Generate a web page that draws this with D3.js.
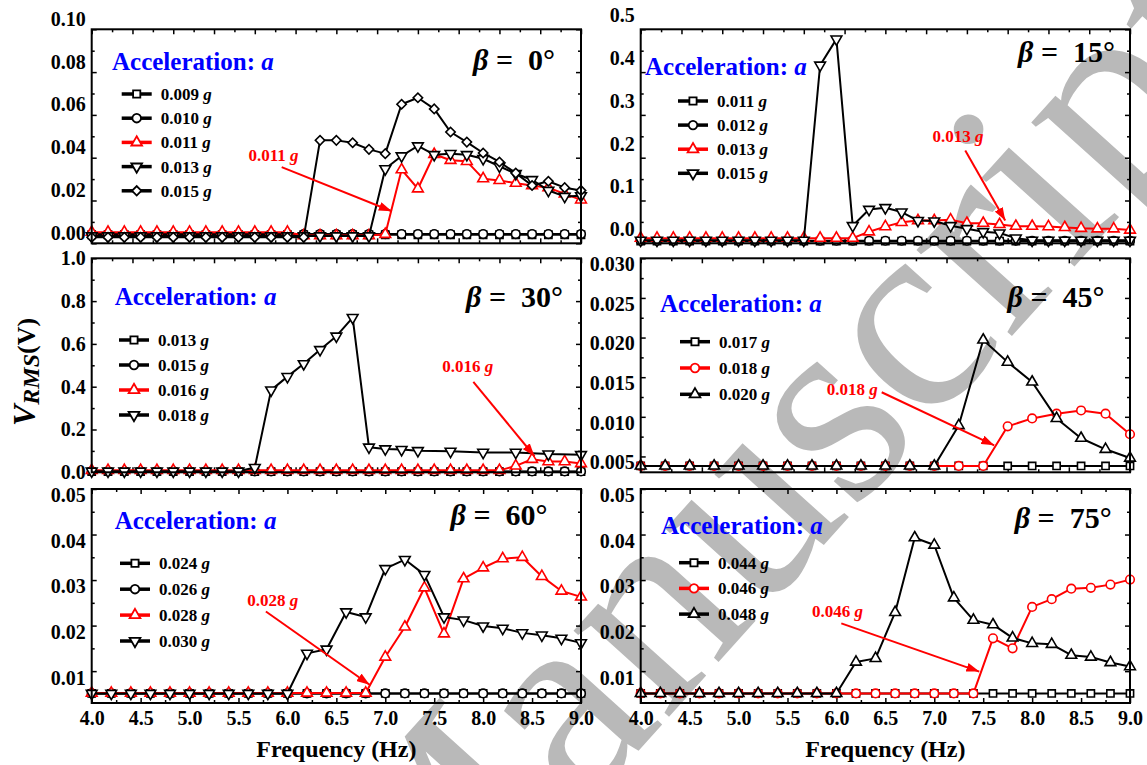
<!DOCTYPE html>
<html>
<head>
<meta charset="utf-8">
<script src="https://cdn.jsdelivr.net/npm/d3@7"></script>
<style>
  body { margin: 0; background: #fff; }
  svg text { font-family: "Liberation Serif", "Times New Roman", Times, serif; font-weight: bold; }
</style>
</head>
<body>
<svg class="vrmsChart" width="1147" height="765"></svg>
<script>
// Frequency grids (Hz)
const freqA = [3.0, 3.2, 3.4, 3.6, 3.8, 4.0, 4.2, 4.4, 4.6, 4.8, 5.0, 5.2, 5.4, 5.6, 5.8, 6.0,
               6.2, 6.4, 6.6, 6.8, 7.0, 7.2, 7.4, 7.6, 7.8, 8.0, 8.2, 8.4, 8.6, 8.8, 9.0];
const freqA2 = [3.0, 3.2, 3.4, 3.6, 3.8, 4.0, 4.2, 4.4, 4.6, 4.8, 5.0, 5.2, 5.4, 5.6, 5.8, 6.0,
                6.2, 6.4, 6.6, 6.8, 7.0, 7.4, 7.8, 8.2, 8.6, 9.0];
const freqB = [5.0, 5.2, 5.4, 5.6, 5.8, 6.0, 6.2, 6.4, 6.6, 6.8, 7.0, 7.2, 7.4, 7.6, 7.8, 8.0,
               8.2, 8.4, 8.6, 8.8, 9.0];
const freqC = [4.0, 4.2, 4.4, 4.6, 4.8, 5.0, 5.2, 5.4, 5.6, 5.8, 6.0, 6.2, 6.4, 6.6, 6.8, 7.0,
               7.2, 7.4, 7.6, 7.8, 8.0, 8.2, 8.4, 8.6, 8.8, 9.0];

// Tick labels
const xTicksA = [3.0, 3.5, 4.0, 4.5, 5.0, 5.5, 6.0, 6.5, 7.0, 7.5, 8.0, 8.5, 9.0];
const xTicksB = [5.0, 5.5, 6.0, 6.5, 7.0, 7.5, 8.0, 8.5, 9.0];
const xTicksC = [4.0, 4.5, 5.0, 5.5, 6.0, 6.5, 7.0, 7.5, 8.0, 8.5, 9.0];
const yTicks0 = [0.00, 0.02, 0.04, 0.06, 0.08, 0.10];
const yTicks15 = [0.0, 0.1, 0.2, 0.3, 0.4, 0.5];
const yTicks30 = [0.0, 0.2, 0.4, 0.6, 0.8, 1.0];
const yTicks45 = [0.005, 0.010, 0.015, 0.020, 0.025, 0.030];
const yTicks60 = [0.01, 0.02, 0.03, 0.04, 0.05];

// beta = 0 deg  (V_RMS in V)
const b0_a009 = [0.0040, 0.0040, 0.0040, 0.0040, 0.0040, 0.0040, 0.0040, 0.0040, 0.0040, 0.0040, 0.0040,
                 0.0040, 0.0040, 0.0040, 0.0040, 0.0040, 0.0040, 0.0040, 0.0040, 0.0040, 0.0040, 0.0040,
                 0.0040, 0.0040, 0.0040, 0.0040, 0.0040, 0.0040, 0.0040, 0.0040, 0.0040];
const b0_a010 = [0.0043, 0.0043, 0.0043, 0.0043, 0.0043, 0.0043, 0.0043, 0.0043, 0.0043, 0.0043, 0.0043,
                 0.0043, 0.0043, 0.0043, 0.0043, 0.0043, 0.0043, 0.0043, 0.0043, 0.0043, 0.0043, 0.0043,
                 0.0043, 0.0043, 0.0043, 0.0043, 0.0043, 0.0043, 0.0043, 0.0043, 0.0043];
const b0_a011 = [0.0052, 0.0052, 0.0052, 0.0052, 0.0052, 0.0052, 0.0052, 0.0052, 0.0052, 0.0052, 0.0052,
                 0.0052, 0.0052, 0.0036, 0.0036, 0.0036, 0.0036, 0.0036, 0.0042, 0.0344, 0.0255, 0.0416,
                 0.0388, 0.0383, 0.0302, 0.0294, 0.0281, 0.0270, 0.0260, 0.0231, 0.0203];
const b0_a013 = [0.0034, 0.0034, 0.0034, 0.0034, 0.0034, 0.0034, 0.0034, 0.0034, 0.0034, 0.0034, 0.0034,
                 0.0034, 0.0034, 0.0034, 0.0034, 0.0034, 0.0034, 0.0034, 0.0348, 0.0408, 0.0455, 0.0414,
                 0.0419, 0.0414, 0.0395, 0.0360, 0.0325, 0.0297, 0.0247, 0.0219, 0.0222];
const b0_a015 = [0.0028, 0.0028, 0.0028, 0.0028, 0.0028, 0.0028, 0.0028, 0.0028, 0.0028, 0.0028, 0.0028,
                 0.0028, 0.0028, 0.0028, 0.0481, 0.0481, 0.0470, 0.0439, 0.0419, 0.0650, 0.0680, 0.0628,
                 0.0520, 0.0473, 0.0422, 0.0380, 0.0328, 0.0270, 0.0290, 0.0260, 0.0247];

// beta = 15 deg
const b15_a011 = [0.005, 0.005, 0.005, 0.005, 0.005, 0.005, 0.005, 0.005, 0.005, 0.005, 0.005,
                  0.005, 0.005, 0.005, 0.005, 0.005, 0.005, 0.005, 0.005, 0.005, 0.005, 0.005,
                  0.005, 0.005, 0.005, 0.005, 0.005, 0.005, 0.005, 0.005, 0.005];
const b15_a012 = [0.006, 0.006, 0.006, 0.006, 0.006, 0.006, 0.006, 0.006, 0.006, 0.006, 0.006,
                  0.006, 0.006, 0.006, 0.006, 0.006, 0.006, 0.006, 0.006, 0.006, 0.006, 0.006,
                  0.006, 0.006, 0.006, 0.006, 0.006, 0.006, 0.006, 0.006, 0.006];
const b15_a013 = [0.012, 0.012, 0.012, 0.012, 0.012, 0.012, 0.012, 0.012, 0.012, 0.012, 0.012,
                  0.012, 0.012, 0.012, 0.027, 0.039, 0.049, 0.053, 0.053, 0.055, 0.047, 0.047,
                  0.044, 0.040, 0.040, 0.039, 0.037, 0.035, 0.034, 0.034, 0.031];
const b15_a015 = [0.007, 0.007, 0.007, 0.007, 0.007, 0.007, 0.007, 0.007, 0.007, 0.007, 0.007,
                  0.416, 0.477, 0.041, 0.079, 0.083, 0.073, 0.053, 0.052, 0.041, 0.034, 0.027,
                  0.024, 0.012, 0.007, 0.007, 0.007, 0.007, 0.007, 0.007, 0.007];

// beta = 30 deg
const b30_a013 = [0.003, 0.003, 0.003, 0.003, 0.003, 0.003, 0.003, 0.003, 0.003, 0.003, 0.003,
                  0.003, 0.003, 0.003, 0.003, 0.003, 0.003, 0.003, 0.003, 0.003, 0.003, 0.003,
                  0.003, 0.003, 0.003, 0.003, 0.003, 0.003, 0.003, 0.003, 0.003];
const b30_a015 = [0.004, 0.004, 0.004, 0.004, 0.004, 0.004, 0.004, 0.004, 0.004, 0.004, 0.004,
                  0.004, 0.004, 0.004, 0.004, 0.004, 0.004, 0.004, 0.004, 0.004, 0.004, 0.004,
                  0.004, 0.004, 0.004, 0.004, 0.004, 0.004, 0.004, 0.004, 0.004];
const b30_a016 = [0.009, 0.009, 0.009, 0.009, 0.009, 0.009, 0.009, 0.009, 0.009, 0.009, 0.009,
                  0.009, 0.009, 0.009, 0.009, 0.009, 0.009, 0.009, 0.009, 0.009, 0.009, 0.009,
                  0.009, 0.009, 0.009, 0.009, 0.030, 0.061, 0.050, 0.050, 0.041];
const b30_a018 = [0.005, 0.005, 0.005, 0.005, 0.005, 0.005, 0.005, 0.005, 0.005, 0.005, 0.022,
                  0.384, 0.447, 0.507, 0.573, 0.636, 0.723, 0.117, 0.109, 0.106, 0.101, 0.098,
                  0.093, 0.093, 0.085, 0.082];

// beta = 45 deg
const b45_a017 = [0.0038, 0.0038, 0.0038, 0.0038, 0.0038, 0.0038, 0.0038, 0.0038, 0.0038, 0.0038, 0.0038,
                  0.0038, 0.0038, 0.0038, 0.0038, 0.0038, 0.0038, 0.0038, 0.0038, 0.0038, 0.0038];
const b45_a018 = [0.0038, 0.0038, 0.0038, 0.0038, 0.0038, 0.0038, 0.0038, 0.0038, 0.0038, 0.0038, 0.0038,
                  0.0038, 0.0038, 0.0038, 0.0038, 0.0088, 0.0098, 0.0104, 0.0108, 0.0104, 0.0078];
const b45_a020 = [0.0038, 0.0038, 0.0038, 0.0038, 0.0038, 0.0038, 0.0038, 0.0038, 0.0038, 0.0038, 0.0038,
                  0.0038, 0.0038, 0.0089, 0.0197, 0.0169, 0.0144, 0.0098, 0.0073, 0.0059, 0.0048];

// beta = 60 deg
const b60_a024 = [0.0051, 0.0051, 0.0051, 0.0051, 0.0051, 0.0051, 0.0051, 0.0051, 0.0051, 0.0051, 0.0051,
                  0.0051, 0.0051, 0.0051, 0.0051, 0.0051, 0.0051, 0.0051, 0.0051, 0.0051, 0.0051, 0.0051,
                  0.0051, 0.0051, 0.0051, 0.0051];
const b60_a026 = [0.0051, 0.0051, 0.0051, 0.0051, 0.0051, 0.0051, 0.0051, 0.0051, 0.0051, 0.0051, 0.0051,
                  0.0051, 0.0051, 0.0051, 0.0051, 0.0051, 0.0051, 0.0051, 0.0051, 0.0051, 0.0051, 0.0051,
                  0.0051, 0.0051, 0.0051, 0.0051];
const b60_a028 = [0.0052, 0.0052, 0.0052, 0.0052, 0.0052, 0.0052, 0.0052, 0.0052, 0.0052, 0.0052, 0.0052,
                  0.0052, 0.0052, 0.0052, 0.0052, 0.0131, 0.0197, 0.0283, 0.0182, 0.0303, 0.0327, 0.0347,
                  0.0350, 0.0308, 0.0276, 0.0263];
const b60_a030 = [0.0051, 0.0051, 0.0051, 0.0051, 0.0051, 0.0051, 0.0051, 0.0051, 0.0051, 0.0051, 0.0051,
                  0.0139, 0.0148, 0.0230, 0.0219, 0.0325, 0.0345, 0.0312, 0.0219, 0.0212, 0.0199, 0.0194,
                  0.0184, 0.0179, 0.0172, 0.0162];

// beta = 75 deg
const b75_a044 = [0.0051, 0.0051, 0.0051, 0.0051, 0.0051, 0.0051, 0.0051, 0.0051, 0.0051, 0.0051, 0.0051,
                  0.0051, 0.0051, 0.0051, 0.0051, 0.0051, 0.0051, 0.0051, 0.0051, 0.0051, 0.0051, 0.0051,
                  0.0051, 0.0051, 0.0051, 0.0051];
const b75_a046 = [0.0051, 0.0051, 0.0051, 0.0051, 0.0051, 0.0051, 0.0051, 0.0051, 0.0051, 0.0051, 0.0051,
                  0.0051, 0.0051, 0.0051, 0.0051, 0.0051, 0.0051, 0.0051, 0.0172, 0.0150, 0.0241, 0.0258,
                  0.0281, 0.0283, 0.0290, 0.0301];
const b75_a048 = [0.0051, 0.0051, 0.0051, 0.0051, 0.0051, 0.0051, 0.0051, 0.0051, 0.0051, 0.0051, 0.0051,
                  0.0120, 0.0128, 0.0229, 0.0393, 0.0377, 0.0261, 0.0212, 0.0202, 0.0173, 0.0161, 0.0159,
                  0.0135, 0.0131, 0.0119, 0.0110];

// red call-outs: label position, arrow tail, arrow head (data units)
const note0 = { text: "0.011", at: [5.23, 0.0384], from: [5.33, 0.0356], to: [6.68, 0.0150] };
const note15 = { text: "0.013", at: [6.89, 0.237], from: [6.98, 0.217], to: [7.47, 0.053] };
const note30 = { text: "0.016", at: [7.61, 0.469], from: [7.68, 0.423], to: [8.43, 0.075] };
const note45 = { text: "0.018", at: [6.73, 0.0128], from: [6.97, 0.0131], to: [7.89, 0.0064] };
const note60 = { text: "0.028", at: [5.85, 0.0244], from: [5.78, 0.0231], to: [6.84, 0.0070] };
const note75 = { text: "0.046", at: [6.01, 0.0218], from: [6.05, 0.0205], to: [7.46, 0.0099] };

const RED = "#ff0000", BLACK = "#000000", BLUE = "#0000ff";

const colX = [91.7, 640.7];
const rowY = [29.3, 258.3, 489];
const panelW = 489.3, panelH = 214;

const panels = [
    { beta: "0°", col: 0, row: 0, xDomain: [3, 9], xTicks: xTicksA, yDomain: [0, 0.10], yTicks: yTicks0, yFormat: ".2f",
      labelShift: -10.5, note: note0, accel: [20.3, 40.7], betaPos: [26, 40.7], legend: [30, 64.7, 24.2],
      series: [
          { g: "0.009", f: freqA, v: b0_a009, color: BLACK, shape: "square" },
          { g: "0.010", f: freqA, v: b0_a010, color: BLACK, shape: "circle" },
          { g: "0.011", f: freqA, v: b0_a011, color: RED, shape: "up" },
          { g: "0.013", f: freqA, v: b0_a013, color: BLACK, shape: "down" },
          { g: "0.015", f: freqA, v: b0_a015, color: BLACK, shape: "diamond" }
      ] },
    { beta: "15°", col: 1, row: 0, xDomain: [3, 9], xTicks: xTicksA, yDomain: [0, 0.5], yTicks: yTicks15, yFormat: ".1f",
      labelShift: -14, note: note15, accel: [4.3, 45.7], betaPos: [15, 32.4], legend: [37.3, 71.7, 24.1],
      series: [
          { g: "0.011", f: freqA, v: b15_a011, color: BLACK, shape: "square" },
          { g: "0.012", f: freqA, v: b15_a012, color: BLACK, shape: "circle" },
          { g: "0.013", f: freqA, v: b15_a013, color: RED, shape: "up" },
          { g: "0.015", f: freqA, v: b15_a015, color: BLACK, shape: "down" }
      ] },
    { beta: "30°", col: 0, row: 1, xDomain: [3, 9], xTicks: xTicksA, yDomain: [0, 1.0], yTicks: yTicks30, yFormat: ".1f",
      labelShift: 0, note: note30, accel: [23, 46.7], betaPos: [18, 48.4], legend: [27.3, 81.7, 25],
      series: [
          { g: "0.013", f: freqA, v: b30_a013, color: BLACK, shape: "square" },
          { g: "0.015", f: freqA, v: b30_a015, color: BLACK, shape: "circle" },
          { g: "0.016", f: freqA, v: b30_a016, color: RED, shape: "up" },
          { g: "0.018", f: freqA2, v: b30_a018, color: BLACK, shape: "down" }
      ] },
    { beta: "45°", col: 1, row: 1, xDomain: [5, 9], xTicks: xTicksB, yDomain: [0.003, 0.030], yTicks: yTicks45, yFormat: ".3f",
      labelShift: 6, note: note45, accel: [19.3, 53.4], betaPos: [25.5, 48.4], legend: [39.3, 83.4, 26.3],
      series: [
          { g: "0.017", f: freqB, v: b45_a017, color: BLACK, shape: "square" },
          { g: "0.018", f: freqB, v: b45_a018, color: RED, shape: "circle" },
          { g: "0.020", f: freqB, v: b45_a020, color: BLACK, shape: "up" }
      ] },
    { beta: "60°", col: 0, row: 2, xDomain: [4, 9], xTicks: xTicksC, yDomain: [0.003, 0.05], yTicks: yTicks60, yFormat: ".2f",
      labelShift: 6.5, note: note60, accel: [23, 40], betaPos: [33.4, 36], legend: [28.3, 74.3, 25.9], showX: true,
      series: [
          { g: "0.024", f: freqC, v: b60_a024, color: BLACK, shape: "square" },
          { g: "0.026", f: freqC, v: b60_a026, color: BLACK, shape: "circle" },
          { g: "0.028", f: freqC, v: b60_a028, color: RED, shape: "up" },
          { g: "0.030", f: freqC, v: b60_a030, color: BLACK, shape: "down" }
      ] },
    { beta: "75°", col: 1, row: 2, xDomain: [4, 9], xTicks: xTicksC, yDomain: [0.003, 0.05], yTicks: yTicks60, yFormat: ".2f",
      labelShift: 6.5, note: note75, accel: [20.3, 45], betaPos: [18.3, 39.3], legend: [38.3, 73.7, 25.7], showX: true,
      series: [
          { g: "0.044", f: freqC, v: b75_a044, color: BLACK, shape: "square" },
          { g: "0.046", f: freqC, v: b75_a046, color: RED, shape: "circle" },
          { g: "0.048", f: freqC, v: b75_a048, color: BLACK, shape: "up" }
      ] }
];

const shapes = {
    square: { type: d3.symbolSquare, size: 52, rotate: 0 },
    circle: { type: d3.symbolCircle, size: 58, rotate: 0 },
    up: { type: d3.symbolTriangle, size: 50, rotate: 0 },
    down: { type: d3.symbolTriangle, size: 50, rotate: 180 },
    diamond: { type: d3.symbolSquare, size: 44, rotate: 45 }
};

const svg = d3.select(".vrmsChart");
svg.append("rect").attr("width", 1147).attr("height", 765).attr("fill", "#fff");

// light grey "Manuscript" watermark behind everything
svg.append("text")
    .attr("transform", "translate(415,999) rotate(-48)")
    .attr("font-size", 280)
    .style("font-weight", "normal")
    .attr("fill", "#b9b9b9")
    .text("Manuscript");

const defs = svg.append("defs");
defs.append("marker")
    .attr("id", "redArrow")
    .attr("markerUnits", "userSpaceOnUse")
    .attr("markerWidth", 13).attr("markerHeight", 9)
    .attr("refX", 13).attr("refY", 4.5)
    .attr("orient", "auto")
    .append("path")
    .attr("d", "M0,0 L13,4.5 L0,9 Z")
    .attr("fill", RED);

// minor ticks sit half way between major ones
function halfSteps(major, domain) {
    const step = major[1] - major[0];
    const out = [];
    major.forEach(t => {
        [t - step / 2, t + step / 2].forEach(m => {
            if (m >= domain[0] - 1e-9 && m <= domain[1] + 1e-9 && !out.some(o => Math.abs(o - m) < 1e-9)) out.push(m);
        });
    });
    return out;
}

function styleAxis(a) {
    a.select(".domain").remove();
    a.selectAll(".tick line").attr("stroke", BLACK).attr("stroke-width", 1.5);
    a.attr("font-size", 20).attr("font-family", null);
}

function drawPanel(p) {
    const g = svg.append("g")
        .attr("transform", `translate(${colX[p.col]},${rowY[p.row]})`);

    const x = d3.scaleLinear().domain(p.xDomain).range([0, panelW]);
    const y = d3.scaleLinear().domain(p.yDomain).range([panelH, 0]);

    const xMinor = halfSteps(p.xTicks, p.xDomain);
    const yMinor = halfSteps(p.yTicks, p.yDomain);

    // inward ticks on all four sides
    [[d3.axisBottom, x, p.xTicks, 5, `translate(0,${panelH})`],
     [d3.axisBottom, x, xMinor, 3, `translate(0,${panelH})`],
     [d3.axisTop, x, p.xTicks, 5, "translate(0,0)"],
     [d3.axisTop, x, xMinor, 3, "translate(0,0)"],
     [d3.axisLeft, y, p.yTicks, 5, "translate(0,0)"],
     [d3.axisLeft, y, yMinor, 3, "translate(0,0)"],
     [d3.axisRight, y, p.yTicks, 5, `translate(${panelW},0)`],
     [d3.axisRight, y, yMinor, 3, `translate(${panelW},0)`]
    ].forEach(([axisFn, scale, vals, len, tr]) => {
        g.append("g").attr("transform", tr)
            .call(axisFn(scale).tickValues(vals).tickSize(-len).tickFormat(""))
            .call(styleAxis);
    });

    // left tick labels
    const yLab = g.append("g")
        .call(d3.axisLeft(y).tickValues(p.yTicks).tickSize(0).tickPadding(6).tickFormat(d3.format(p.yFormat)))
        .call(styleAxis);
    yLab.selectAll("text").attr("fill", BLACK).attr("transform", `translate(0,${p.labelShift})`);

    if (p.showX) {
        const xLab = g.append("g")
            .attr("transform", `translate(0,${panelH})`)
            .call(d3.axisBottom(x).tickValues(p.xTicks).tickSize(0).tickPadding(8).tickFormat(d3.format(".1f")))
            .call(styleAxis);
        xLab.selectAll("text").attr("fill", BLACK);

        g.append("text")
            .attr("x", panelW / 2)
            .attr("y", panelH + 54.4)
            .attr("text-anchor", "middle")
            .attr("font-size", 24)
            .text("Frequency (Hz)");
    }

    // series lines then markers
    const line = d3.line()
        .x(d => x(d[0]))
        .y(d => y(d[1]));

    p.series.forEach(s => {
        const pts = d3.zip(s.f, s.v);
        g.append("path")
            .datum(pts)
            .attr("d", line)
            .attr("fill", "none")
            .attr("stroke", s.color)
            .attr("stroke-width", 2)
            .attr("stroke-linejoin", "round");

        const shp = shapes[s.shape];
        g.selectAll(null)
            .data(pts)
            .enter().append("path")
            .attr("d", d3.symbol().type(shp.type).size(shp.size))
            .attr("transform", d => `translate(${x(d[0])},${y(d[1])}) rotate(${shp.rotate})`)
            .attr("fill", "#fff")
            .attr("stroke", s.color)
            .attr("stroke-width", 1.6);
    });

    // frame
    g.append("rect")
        .attr("width", panelW)
        .attr("height", panelH)
        .attr("fill", "none")
        .attr("stroke", BLACK)
        .attr("stroke-width", 2);

    // legend
    const [lx, ly0, ldy] = p.legend;
    p.series.forEach((s, i) => {
        const ly = ly0 + i * ldy;
        g.append("line")
            .attr("x1", lx).attr("x2", lx + 30)
            .attr("y1", ly).attr("y2", ly)
            .attr("stroke", s.color)
            .attr("stroke-width", 3.5);
        const shp = shapes[s.shape];
        g.append("path")
            .attr("d", d3.symbol().type(shp.type).size(shp.size))
            .attr("transform", `translate(${lx + 15},${ly}) rotate(${shp.rotate})`)
            .attr("fill", "#fff")
            .attr("stroke", s.color)
            .attr("stroke-width", 1.8);
        const t = g.append("text")
            .attr("x", lx + 39)
            .attr("y", ly)
            .attr("dy", "0.35em")
            .attr("font-size", 17)
            .attr("fill", BLACK);
        t.append("tspan").text(s.g + " ");
        t.append("tspan").attr("font-style", "italic").text("g");
    });

    // "Acceleration: a"
    const acc = g.append("text")
        .attr("x", p.accel[0])
        .attr("y", p.accel[1])
        .attr("font-size", 25)
        .attr("fill", BLUE);
    acc.append("tspan").text("Acceleration: ");
    acc.append("tspan").attr("font-style", "italic").text("a");

    // beta label
    const bt = g.append("text")
        .attr("x", panelW - p.betaPos[0])
        .attr("y", p.betaPos[1])
        .attr("text-anchor", "end")
        .attr("font-size", 30)
        .attr("fill", BLACK)
        .attr("xml:space", "preserve");
    bt.append("tspan").attr("font-style", "italic").text("β");
    bt.append("tspan").text(" =  " + p.beta);

    // red call-out
    const n = p.note;
    g.append("line")
        .attr("x1", x(n.from[0])).attr("y1", y(n.from[1]))
        .attr("x2", x(n.to[0])).attr("y2", y(n.to[1]))
        .attr("stroke", RED)
        .attr("stroke-width", 2)
        .attr("marker-end", "url(#redArrow)");
    const nt = g.append("text")
        .attr("x", x(n.at[0]))
        .attr("y", y(n.at[1]))
        .attr("text-anchor", "middle")
        .attr("font-size", 17)
        .attr("fill", RED);
    nt.append("tspan").text(n.text + " ");
    nt.append("tspan").attr("font-style", "italic").text("g");
}

panels.forEach(drawPanel);

// shared y title
const yTitle = svg.append("text")
    .attr("transform", "translate(35,372) rotate(-90)")
    .attr("text-anchor", "middle")
    .attr("fill", BLACK);
yTitle.append("tspan").attr("font-size", 32).attr("font-style", "italic").text("V");
yTitle.append("tspan").attr("font-size", 24).attr("font-style", "italic").attr("dy", 4).text("RMS");
yTitle.append("tspan").attr("font-size", 26).attr("dy", -4).text("(V)");
</script>
</body>
</html>
